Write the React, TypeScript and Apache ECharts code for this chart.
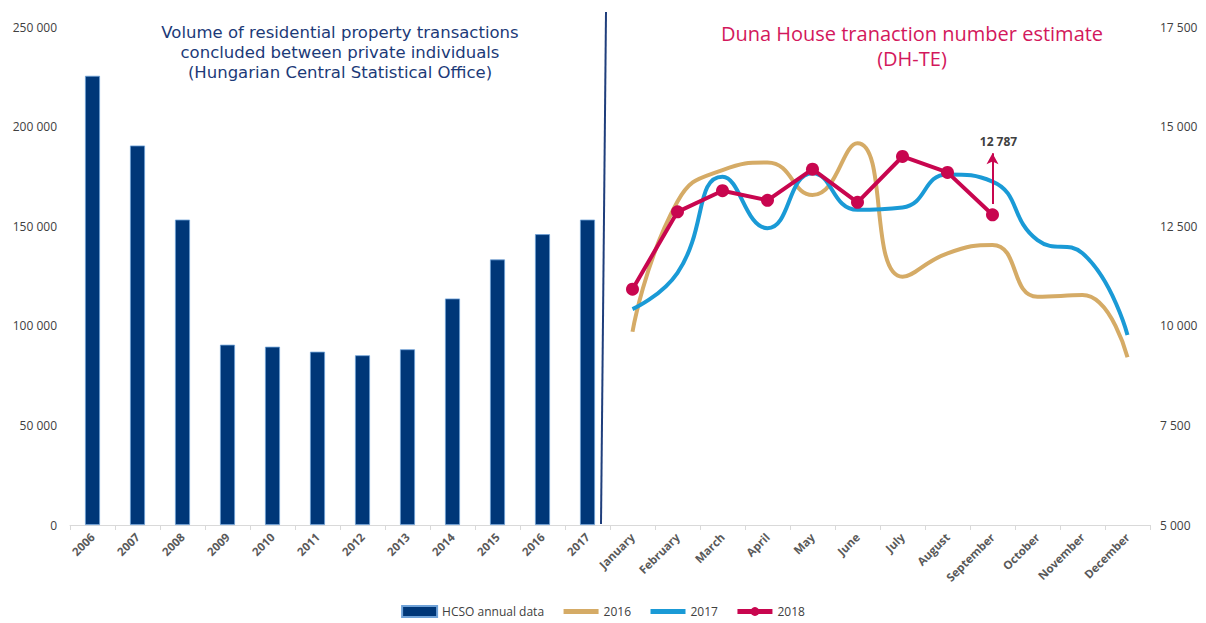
import React, { useEffect, useRef } from "react";
import * as echarts from "echarts";

const years = ["2006", "2007", "2008", "2009", "2010", "2011", "2012", "2013", "2014", "2015", "2016", "2017"];
const months = ["January", "February", "March", "April", "May", "June", "July", "August", "September", "October", "November", "December"];
const hcso = [225500, 190500, 153300, 90500, 89500, 87000, 85200, 88200, 113700, 133300, 146000, 153300];
const dh2016 = [9850, 13120, 13910, 14100, 13280, 14580, 11230, 11820, 12030, 10730, 10770, 9210];
const dh2017 = [10420, 11330, 13740, 12450, 13830, 12910, 12970, 13800, 13620, 12150, 11820, 9770];
const dh2018 = [10920, 12860, 13390, 13150, 13930, 13100, 14250, 13850, 12787];
const leftTicks = { min: 0, max: 250000, interval: 50000 };
const rightTicks = { min: 5000, max: 17500, interval: 2500 };
const annotationValue = 12787;

const fmt = (v: number) => String(v).replace(/\B(?=(\d{3})+(?!\d))/g, " ");

export default function App() {
  const ref = useRef<HTMLDivElement>(null);
  useEffect(() => {
    if (!ref.current) return;
    const chart = echarts.init(ref.current, undefined, { renderer: "svg" });
    const categories = [...years, ...months];
    const pad = (n: number) => new Array(n).fill("-");
    const barData = [...hcso, ...pad(months.length)];
    const l16 = [...pad(years.length), ...dh2016];
    const l17 = [...pad(years.length), ...dh2017];
    const l18 = [...pad(years.length), ...dh2018];
    const axisLabelStyle = { color: "#595959", fontSize: 11.5, fontWeight: "bold" as const, fontFamily: "Open Sans" };
    chart.setOption({
      animation: false,
      backgroundColor: "#ffffff",
      textStyle: { fontFamily: "Open Sans" },
      grid: { left: 70, right: 56, top: 27, bottom: 98, containLabel: false },
      legend: {
        bottom: 0,
        left: "center",
        itemWidth: 35,
        itemHeight: 11,
        itemGap: 17,
        textStyle: { color: "#404040", fontSize: 12, fontFamily: "Open Sans" },
        data: [
          { name: "HCSO annual data", icon: "rect" },
          { name: "2016", itemStyle: { opacity: 0 }, lineStyle: { width: 5 } },
          { name: "2017", itemStyle: { opacity: 0 }, lineStyle: { width: 5 } },
          { name: "2018", lineStyle: { width: 5 } },
        ],
      },
      xAxis: {
        type: "category",
        data: categories,
        boundaryGap: true,
        axisLine: { lineStyle: { color: "#d9d9d9", width: 1 } },
        axisTick: { show: true, alignWithLabel: false, length: 5, lineStyle: { color: "#d9d9d9" } },
        axisLabel: { ...axisLabelStyle, rotate: 45, interval: 0, margin: 10 },
      },
      yAxis: [
        {
          type: "value",
          ...leftTicks,
          splitLine: { show: false },
          axisLine: { show: false },
          axisTick: { show: false },
          axisLabel: { ...axisLabelStyle, fontSize: 12, fontWeight: "normal", color: "#404040", margin: 13, formatter: (v: number) => fmt(v) },
        },
        {
          type: "value",
          ...rightTicks,
          position: "right",
          splitLine: { show: false },
          axisLine: { show: false },
          axisTick: { show: false },
          axisLabel: { ...axisLabelStyle, fontSize: 12, fontWeight: "normal", color: "#404040", margin: 10, formatter: (v: number) => fmt(v) },
        },
      ],
      series: [
        {
          name: "HCSO annual data",
          type: "bar",
          yAxisIndex: 0,
          data: barData,
          barWidth: 15,
          itemStyle: { color: "#003778", borderColor: "#6fa2d8", borderWidth: 0.8 },
        },
        {
          name: "2016",
          type: "line",
          yAxisIndex: 1,
          data: l16,
          smooth: 0.5,
          symbol: "none",
          lineStyle: { color: "#d5ab66", width: 4 },
          itemStyle: { color: "#d5ab66" },
        },
        {
          name: "2017",
          type: "line",
          yAxisIndex: 1,
          data: l17,
          smooth: 0.5,
          symbol: "none",
          lineStyle: { color: "#1a9ad6", width: 4 },
          itemStyle: { color: "#1a9ad6" },
        },
        {
          name: "2018",
          type: "line",
          yAxisIndex: 1,
          data: l18,
          smooth: false,
          symbol: "circle",
          symbolSize: 13,
          lineStyle: { color: "#c8064f", width: 4 },
          itemStyle: { color: "#c8064f" },
          markLine: {
            silent: true,
            symbol: ["none", "arrow"],
            symbolSize: [9, 11],
            lineStyle: { color: "#c8064f", width: 2, type: "solid" },
            label: {
              show: true,
              position: "end",
              formatter: fmt(annotationValue),
              color: "#404040",
              fontWeight: "bold",
              fontSize: 12,
              fontFamily: "Open Sans",
              distance: 6,
              offset: [6, 0],
            },
            data: [
              [
                { coord: ["September", 13060] },
                { coord: ["September", 14330] },
              ],
            ],
          },
        },
      ],
      graphic: [
        {
          type: "line",
          shape: { x1: 606, y1: 12, x2: 601, y2: 524 },
          style: { stroke: "#1f3e7c", lineWidth: 2 },
        },
        {
          type: "text",
          x: 340,
          y: 22,
          style: {
            text: "Volume of residential property transactions\nconcluded between private individuals\n(Hungarian Central Statistical Office)",
            fill: "#1c3a78",
            font: "16.5px 'DejaVu Sans'",
            align: "center",
            lineHeight: 20,
          },
        },
        {
          type: "text",
          x: 912,
          y: 21,
          style: {
            text: "Duna House tranaction number estimate\n(DH-TE)",
            fill: "#d3185c",
            font: "20px 'Open Sans'",
            align: "center",
            lineHeight: 25,
          },
        },
      ],
    });
    return () => chart.dispose();
  }, []);
  return <div ref={ref} style={{ position: "fixed", left: 0, top: 0, width: 1206, height: 623 }} />;
}
